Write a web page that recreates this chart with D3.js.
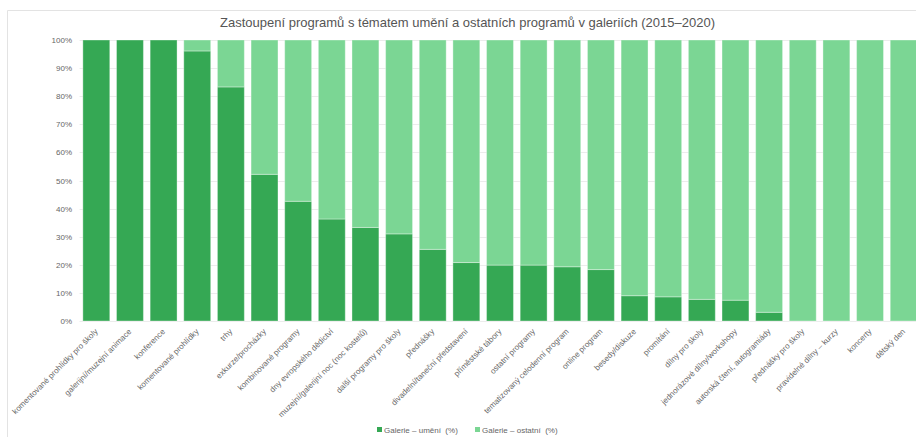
<!DOCTYPE html>
<html>
<head>
<meta charset="utf-8">
<script src="https://cdn.jsdelivr.net/npm/d3@7"></script>
<style>
  html, body { margin: 0; padding: 0; background: #fff; }
  svg { display: block; font-family: "Liberation Sans", Arial, sans-serif; }
</style>
</head>
<body>
<svg id="chart" width="916" height="437"></svg>
<script>
// Program categories (x axis)
const categories = [
  "komentované prohlídky pro školy",
  "galerijní/muzejní animace",
  "konference",
  "komentované prohlídky",
  "trhy",
  "exkurze/procházky",
  "kombinované programy",
  "dny evropského dědictví",
  "muzejní/galerijní noc (noc kostelů)",
  "další programy pro školy",
  "přednášky",
  "divadelní/taneční představení",
  "příměstské tábory",
  "ostatní programy",
  "tematizovaný celodenní program",
  "online program",
  "besedy/diskuze",
  "promítání",
  "dílny pro školy",
  "jednorázové dílny/workshopy",
  "autorská čtení, autogramiády",
  "přednášky pro školy",
  "pravidelné dílny – kurzy",
  "koncerty",
  "dětský den"
];

// Share of art-themed programmes (%)
const umeni = [100, 100, 100, 96.1, 83.3, 52.2, 42.6, 36.3, 33.3, 31.0, 25.5, 20.8, 19.9, 19.9, 19.3, 18.3, 9.0, 8.6, 7.7, 7.4, 3.1, 0, 0, 0, 0];
// Share of other programmes (%)
const ostatni = umeni.map(v => 100 - v);

const seriesNames = ["Galerie – umění  (%)", "Galerie – ostatní  (%)"];
const seriesColors = ["#35a854", "#7bd694"];
const yTicks = [0, 10, 20, 30, 40, 50, 60, 70, 80, 90, 100];
const title = "Zastoupení programů s tématem umění a ostatních programů v galeriích (2015–2020)";

const svg = d3.select("#chart");
const W = 916, H = 437;

// outer frame of the card
svg.append("path")
  .attr("d", `M7.5,${H} L7.5,10.5 L${W},10.5`)
  .attr("fill", "none")
  .attr("stroke", "#e3e3e3");

const plot = { left: 79.5, right: 920.5, top: 40, bottom: 321 };

const x = d3.scaleBand()
  .domain(categories)
  .range([plot.left, plot.right])
  .paddingInner(0.2)
  .paddingOuter(0.1);

const y = d3.scaleLinear()
  .domain([0, 100])
  .range([plot.bottom, plot.top]);

// title
svg.append("text")
  .attr("x", 467.5)
  .attr("y", 27)
  .attr("text-anchor", "middle")
  .attr("font-size", 13)
  .attr("fill", "#555")
  .text(title);

// gridlines
svg.append("g")
  .selectAll("line")
  .data(yTicks)
  .join("line")
  .attr("x1", plot.left)
  .attr("x2", W)
  .attr("y1", d => Math.round(y(d)) + 0.5)
  .attr("y2", d => Math.round(y(d)) + 0.5)
  .attr("stroke", "#ececec");

// y axis labels
const yAxis = d3.axisLeft(y)
  .tickValues(yTicks)
  .tickFormat(d => d + "%")
  .tickSize(0)
  .tickPadding(0);

svg.append("g")
  .attr("transform", `translate(72,0)`)
  .call(yAxis)
  .call(g => g.select(".domain").remove())
  .call(g => g.selectAll("text")
    .attr("font-size", 8)
    .attr("font-family", "Liberation Sans, Arial, sans-serif")
    .attr("fill", "#666"));

// stacked bars
const rows = categories.map((c, i) => ({ cat: c, umeni: umeni[i], ostatni: ostatni[i] }));
const stack = d3.stack().keys(["umeni", "ostatni"])(rows);

svg.append("g")
  .selectAll("g")
  .data(stack)
  .join("g")
  .attr("fill", (d, i) => seriesColors[i])
  .selectAll("rect")
  .data(d => d.filter(p => p[1] - p[0] > 0))
  .join("rect")
  .attr("x", d => x(d.data.cat))
  .attr("width", x.bandwidth())
  .attr("y", d => y(d[1]))
  .attr("height", d => y(d[0]) - y(d[1]))
  .attr("stroke", "rgba(255,255,255,0.35)")
  .attr("stroke-width", 1);

// x axis labels, rotated
const xAxis = d3.axisBottom(x).tickSize(0).tickPadding(0);
svg.append("g")
  .attr("transform", `translate(0,${plot.bottom})`)
  .call(xAxis)
  .call(g => g.select(".domain").remove())
  .call(g => g.selectAll("text")
    .attr("font-size", 8)
    .attr("font-family", "Liberation Sans, Arial, sans-serif")
    .attr("fill", "#666")
    .attr("text-anchor", "end")
    .attr("dy", 0)
    .attr("transform", "translate(2,11) rotate(-45)"));

// legend
const legend = svg.append("g").attr("font-size", 8).attr("fill", "#666");
const legendX = [377, 475];
seriesNames.forEach((name, i) => {
  legend.append("rect")
    .attr("x", legendX[i])
    .attr("y", 427)
    .attr("width", 5)
    .attr("height", 5)
    .attr("fill", seriesColors[i]);
  legend.append("text")
    .attr("x", legendX[i] + 7)
    .attr("y", 432.5)
    .attr("xml:space", "preserve")
    .style("white-space", "pre")
    .text(name);
});
</script>
</body>
</html>
